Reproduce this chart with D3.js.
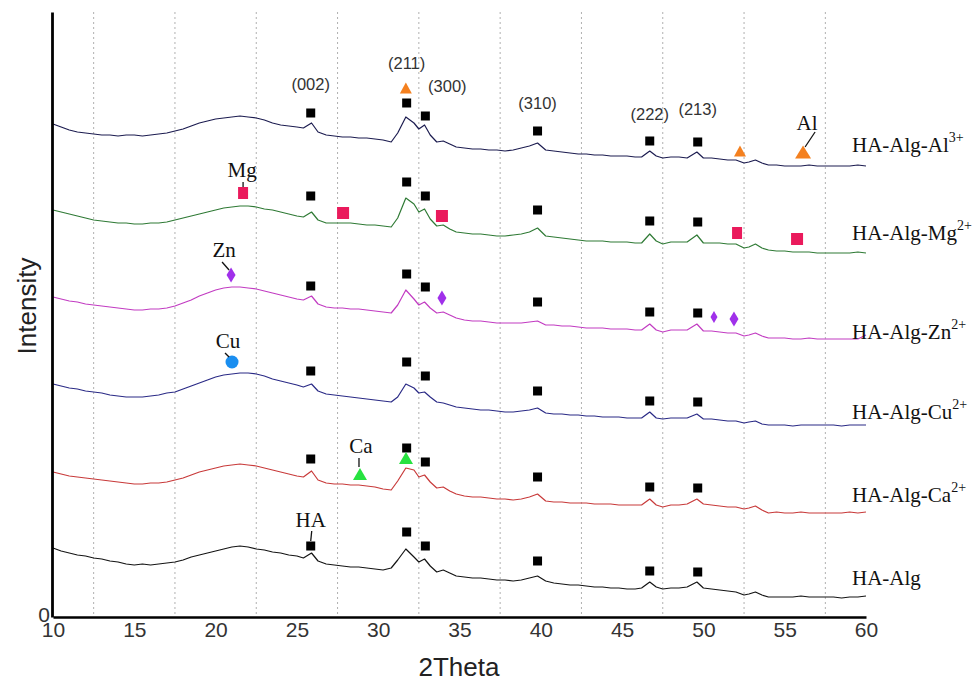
<!DOCTYPE html>
<html><head><meta charset="utf-8">
<script src="https://cdn.jsdelivr.net/npm/d3@7"></script>
<style>body{margin:0;background:#fff}</style>
</head><body>
<svg id="chart" width="980" height="684"></svg>
<script>
// ---------------- DATA ----------------
const twoTheta = [10,10.5,11,11.5,12,12.5,13,13.5,14,14.5,15,15.5,16,16.5,17,17.5,18,18.5,19,19.5,
  20,20.5,21,21.5,22,22.5,23,23.5,24,24.5,25,25.4,25.9,26.3,26.8,27.3,27.8,28.3,28.8,29.3,
  29.8,30.3,30.8,31.2,31.7,32.2,32.5,32.85,33.2,33.6,34.0,34.4,34.8,35.3,35.8,36.3,36.8,37.3,37.8,38.3,
  38.8,39.3,39.8,40.3,40.8,41.3,41.8,42.3,42.8,43.3,43.8,44.3,44.8,45.3,45.8,46.2,46.7,47.1,47.5,48.0,
  48.5,49.0,49.6,50.0,50.5,51.0,51.5,52.0,52.5,52.8,53.2,53.6,54.0,54.5,55.0,55.5,56.0,56.5,57.0,57.5,
  58.0,58.5,59.0,59.5,60.0];

const seriesNames   = ["HA-Alg-Al","HA-Alg-Mg","HA-Alg-Zn","HA-Alg-Cu","HA-Alg-Ca","HA-Alg"];
const seriesCharges = ["3+","2+","2+","2+","2+",""];

const alValues = [493,490,487,485,484,483,482,482,481,482, 482,481,482,483,484,486,488,491,494,496,
  498,499,500,501,500,499,497,494,492,491, 490,489,494,485,482,481,480,480,479,479,
  478,477,475,484,500,494,488,492,482,475, 476,473,470,469,468,468,467,467,466,467,
  469,471,474,467,466,465,464,463,463,462, 462,461,461,461,460,460,466,461,459,460,
  460,459,465,459,459,458,457,457,454,455, 457,454,452,452,451,451,451,452,451,451,
  451,451,451,452,451];
const mgValues = [407,405,403,401,399,397,396,395,394,394, 393,393,394,394,395,397,399,401,403,405,
  407,409,410,411,411,410,408,407,405,403, 401,400,405,397,394,394,394,394,393,392,
  392,391,390,399,419,413,405,408,398,391, 392,388,385,384,383,383,382,381,381,382,
  383,385,389,381,380,379,378,377,376,376, 376,375,375,375,374,374,383,376,373,375,
  375,375,382,374,374,374,373,373,369,370, 373,369,367,366,366,365,365,365,364,364,
  364,364,364,365,364];
const znValues = [320,318,316,315,313,312,311,310,309,308, 307,307,308,308,309,311,314,317,321,324,
  327,329,330,330,329,328,326,324,322,320, 318,317,321,313,310,309,309,308,308,307,
  306,305,304,312,327,318,312,315,309,304, 305,302,299,297,296,296,295,294,294,294,
  294,295,296,292,292,291,291,290,289,289, 289,288,288,288,287,287,293,287,285,287,
  287,287,293,286,286,285,284,284,281,282, 284,281,279,279,279,278,278,279,278,278,
  278,278,278,278,282];
const cuValues = [233,231,229,228,226,225,224,222,221,220, 220,220,221,222,224,225,228,231,234,237,
  240,242,243,244,244,243,241,238,236,234, 232,230,233,226,223,222,221,220,219,218,
  217,216,215,220,233,229,224,225,220,215, 214,212,210,209,208,207,207,206,205,205,
  206,207,209,204,203,203,202,202,201,201, 200,200,200,199,199,199,205,199,198,199,
  199,199,203,198,198,197,196,196,194,195, 196,193,192,192,192,191,192,192,192,192,
  192,191,192,192,192];
const caValues = [145,143,141,140,139,138,137,136,135,134, 133,133,134,134,135,137,139,142,145,147,
  149,151,152,153,152,151,149,147,145,143, 141,140,146,137,134,133,133,132,132,131,
  130,128,127,136,149,147,140,142,135,129, 130,126,123,121,120,120,119,118,118,117,
  118,120,123,116,115,115,114,114,114,113, 113,113,112,112,112,112,118,112,110,112,
  112,113,118,113,112,111,110,110,108,109, 111,107,104,105,104,104,105,104,104,104,
  104,104,105,104,105];
const haValues = [69,66,64,62,61,59,58,56,55,53, 52,53,52,53,54,55,57,60,62,64,
  66,68,70,71,70,68,67,65,64,62, 61,59,64,56,53,52,51,50,50,49,
  48,47,49,57,68,60,55,58,51,45, 47,44,41,40,39,39,38,37,37,36,
  37,39,41,36,34,33,32,32,31,30, 30,29,29,28,28,29,35,30,28,29,
  29,30,35,29,28,27,26,25,22,23, 25,22,20,20,20,20,21,20,20,20,
  20,19,20,20,21];

// HA reflections (black squares)
const hklLabels = ["(002)","(211)","(300)","(310)","(222)","(213)"];
const hklTheta  = [25.85,31.75,32.9,39.8,46.7,49.65];
const alHkl = [504,514,501,486,476,475];
const mgHkl = [421,435,421,407,396,395];
const znHkl = [331,343,330,315,305,304];
const cuHkl = [246,255,241,226,216,215];
const caHkl = [158,169,155,140,130,129];
const haHkl = [71,85,71,56,46,45];

// ion-specific markers
const alTheta = [31.7,52.25,56.13];       const alMark = [529,466,465];
const mgTheta = [21.69,27.84,33.92,52.07,55.76]; const mgMark = [424,404,401,384,378];
const znTheta = [20.95,33.92,50.65,51.88]; const znMark = [342,319,300,298];
const cuTheta = [21.01];                   const cuMark = [255];
const caTheta = [28.88,31.71];             const caMark = [143,159];

const xTicks = [10,15,20,25,30,35,40,45,50,55,60];
const gridTheta = [12.5,17.5,22.5,27.5,32.5,37.5,42.5,47.5,52.5,57.5];

// ---------------- DRAW ----------------
const svg = d3.select("#chart");
const x = d3.scaleLinear().domain([10,60]).range([53,866]);
const y = d3.scaleLinear().domain([0,605]).range([617,12]);

// grid
svg.append("g").selectAll("line").data(gridTheta).join("line")
  .attr("x1",d=>x(d)).attr("x2",d=>x(d)).attr("y1",y(605)).attr("y2",y(0))
  .attr("stroke","#b0b0b0").attr("stroke-width",1).attr("stroke-dasharray","2,3");

const allSeries = [alValues,mgValues,znValues,cuValues,caValues,haValues];
const colors = ["#1c1c50","#2f7a35","#c23cc2","#2a2a86","#c83a3a","#141414"];
const line = d3.line().x((d,i)=>x(twoTheta[i])).y(d=>y(d));
svg.append("g").selectAll("path").data(allSeries).join("path")
  .attr("d",line).attr("fill","none")
  .attr("stroke",(d,i)=>colors[i]).attr("stroke-width",1.2).attr("stroke-linejoin","round");

// axes
const xAxis = d3.axisBottom(x).tickValues(xTicks).tickSize(0).tickSizeOuter(0).tickPadding(5).tickFormat(d3.format("d"));
const gx = svg.append("g").attr("transform",`translate(0,${y(0)})`).call(xAxis);
gx.select(".domain").attr("stroke","#000").attr("stroke-width",2.6);
gx.selectAll("text").attr("font-family","Liberation Sans, Arial, sans-serif").attr("font-size",21).attr("fill","#333");

const yAxis = d3.axisLeft(y).tickValues([0]).tickSize(0).tickSizeOuter(0).tickPadding(2);
const gy = svg.append("g").attr("transform",`translate(${x(10)-1},0)`).call(yAxis);
gy.select(".domain").attr("stroke","#000").attr("stroke-width",2.8);
gy.selectAll("text").attr("font-family","Liberation Sans, Arial, sans-serif").attr("font-size",21).attr("fill","#333").attr("dy","0.2em");

svg.append("text").attr("x",459).attr("y",676).attr("text-anchor","middle")
  .attr("font-family","Liberation Sans, Arial, sans-serif").attr("font-size",26).attr("fill","#222").text("2Theta");
svg.append("text").attr("transform","translate(36,306) rotate(-90)").attr("text-anchor","middle")
  .attr("font-family","Liberation Sans, Arial, sans-serif").attr("font-size",26).attr("fill","#222").text("Intensity");

// hkl squares
const hklSets = [alHkl,mgHkl,znHkl,cuHkl,caHkl,haHkl];
const sq = svg.append("g");
hklSets.forEach(set=>{
  set.forEach((v,i)=>{
    sq.append("rect").attr("x",x(hklTheta[i])-4.5).attr("y",y(v)-4.5).attr("width",9).attr("height",9).attr("fill","#000");
  });
});

// hkl labels on top
const hklLabelLevel = [527,548,525,508,497,502];
const hklLabelDx = [0,0,22,0,0,0];
const sans = "Liberation Sans, Arial, sans-serif", serif = "Liberation Serif, Times New Roman, serif";
svg.append("g").selectAll("text").data(hklLabels).join("text")
  .attr("x",(d,i)=>x(hklTheta[i])+hklLabelDx[i]).attr("y",(d,i)=>y(hklLabelLevel[i]))
  .attr("text-anchor","middle").attr("font-family",sans).attr("font-size",16.5).attr("fill","#333").text(d=>d);

// ion markers
const mk = svg.append("g");
function tri(cx,cy,w,h,fill){mk.append("path").attr("d",`M${cx},${cy-h/2}L${cx+w/2},${cy+h/2}L${cx-w/2},${cy+h/2}Z`).attr("fill",fill);}
function dia(cx,cy,w,h,fill){mk.append("path").attr("d",`M${cx},${cy-h/2}L${cx+w/2},${cy}L${cx},${cy+h/2}L${cx-w/2},${cy}Z`).attr("fill",fill);}
alTheta.forEach((t,i)=>tri(x(t),y(alMark[i]),i===2?16:12,i===2?13:11,"#f4801f"));
mgTheta.forEach((t,i)=>mk.append("rect").attr("x",x(t)-(i===0||i===3?5:6)).attr("y",y(mgMark[i])-6)
  .attr("width",i===0||i===3?10:12).attr("height",12).attr("fill","#ea1a5c"));
znTheta.forEach((t,i)=>dia(x(t),y(znMark[i]),i===2?7:9,i===2?12:15,"#a030ea"));
cuTheta.forEach((t,i)=>mk.append("circle").attr("cx",x(t)).attr("cy",y(cuMark[i])).attr("r",6.5).attr("fill","#1a8ef0"));
caTheta.forEach((t,i)=>tri(x(t),y(caMark[i]),14,12,"#27e240"));

// element labels with leaders
function elLabel(txt,tx,ty,l1,l2){
  svg.append("text").attr("x",tx).attr("y",ty).attr("text-anchor","middle").attr("font-family",serif)
    .attr("font-size",21).attr("fill","#111").text(txt);
  svg.append("line").attr("x1",l1[0]).attr("y1",l1[1]).attr("x2",l2[0]).attr("y2",l2[1]).attr("stroke","#111").attr("stroke-width",1.3);
}
{
  const mx=x(mgTheta[0]), my=y(mgMark[0]);
  elLabel("Mg",mx-1,my-16,[mx,my-11],[mx,my-6]);
  const zx=x(znTheta[0]), zy=y(znMark[0]);
  elLabel("Zn",zx-7,zy-18,[zx-9,zy-13],[zx-2,zy-5]);
  const cx=x(cuTheta[0]), cy=y(cuMark[0]);
  elLabel("Cu",cx-4,cy-14,[cx-7,cy-9],[cx-3,cy-5]);
  const kx=x(caTheta[0]), ky=y(caMark[0]);
  elLabel("Ca",kx+1,ky-21,[kx-1,ky-16],[kx-1,ky-7]);
  const hx=x(hklTheta[0]), hy=y(haHkl[0]);
  elLabel("HA",hx,hy-19,[hx+1,hy-15],[hx,hy-5]);
  const ax=x(alTheta[2]), ay=y(alMark[2]);
  elLabel("Al",ax+4,ay-22,[ax+12,ay-20],[ax+2,ay-5]);
}

// series labels on right
const labelBaselines = [152,240,339,419,502,585];
const lab = svg.append("g");
seriesNames.forEach((n,i)=>{
  const t = lab.append("text").attr("x",852).attr("y",labelBaselines[i]).attr("font-family",serif)
    .attr("font-size",21).attr("fill","#111");
  t.append("tspan").text(n);
  if(seriesCharges[i]) t.append("tspan").attr("dy",-10).attr("font-size",14).text(seriesCharges[i]);
});
</script>
</body></html>
